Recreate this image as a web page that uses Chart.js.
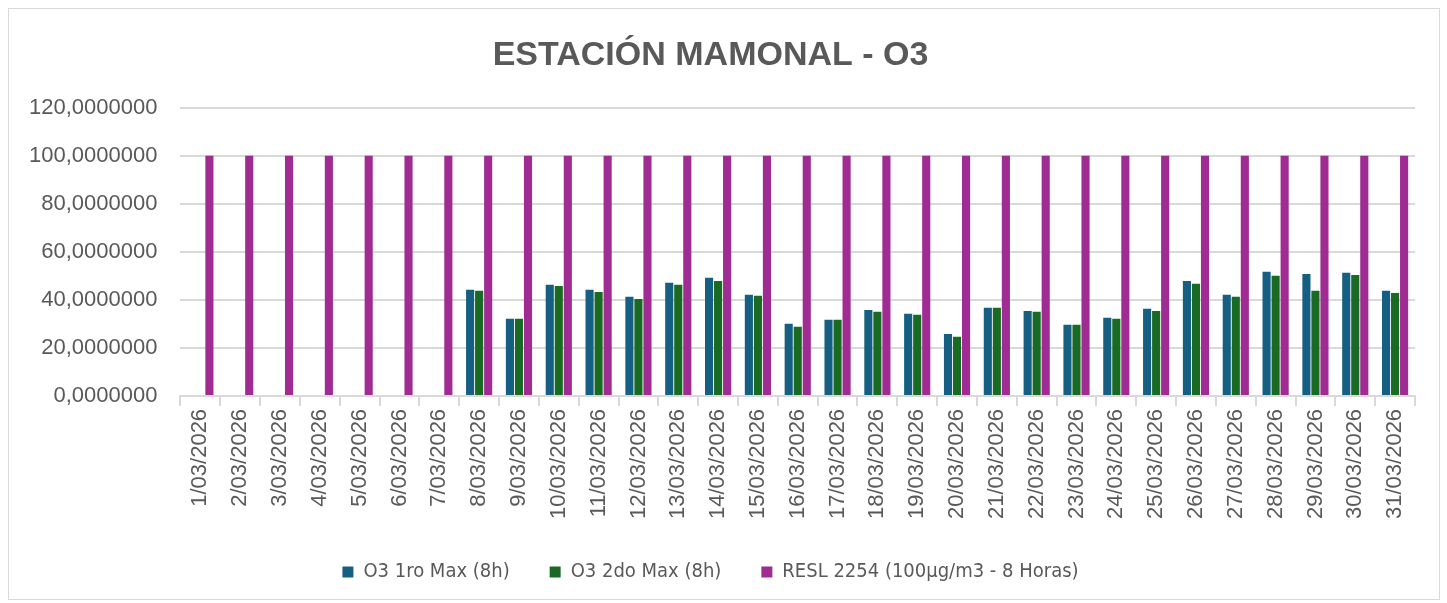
<!DOCTYPE html>
<html>
<head>
<meta charset="utf-8">
<script src="https://cdn.jsdelivr.net/npm/chart.js@4.4.1/dist/chart.umd.min.js"></script>
<style>
  body { margin: 0; background: #fff; }
  #wrap { position: relative; width: 1447px; height: 603px; }
  #frame { position: absolute; left: 8px; top: 8px; width: 1430px; height: 590px; border: 1px solid #d9d9d9; }
</style>
</head>
<body>
<div id="wrap">
  <div id="frame"></div>
  <canvas id="chart" width="1447" height="603"></canvas>
</div>
<script>
const fechas = [];
for (let d = 1; d <= 31; d++) fechas.push(d + '/03/2026');

const o3Primero = [null, null, null, null, null, null, null,
  44.2, 32.1, 46.3, 44.2, 41.3, 47.1, 49.2, 42.1, 30.0, 31.7, 35.8, 34.2,
  25.8, 36.7, 35.4, 29.6, 32.5, 36.3, 47.9, 42.1, 51.7, 50.8, 51.3, 43.8];
const o3Segundo = [null, null, null, null, null, null, null,
  43.8, 32.1, 45.8, 43.3, 40.4, 46.3, 47.9, 41.7, 28.8, 31.7, 35.0, 33.8,
  24.6, 36.7, 35.0, 29.6, 32.1, 35.4, 46.7, 41.3, 50.0, 43.8, 50.4, 42.9];
const norma = Array(31).fill(100);

const gris = '#595959';
const ctx = document.getElementById('chart').getContext('2d');
const myChart = new Chart(ctx, {
    type: 'bar',
    data: {
        labels: fechas,
        datasets: [{
            label: 'O3 1ro Max (8h)',
            data: o3Primero,
            backgroundColor: '#156082'
        }, {
            label: 'O3 2do Max (8h)',
            data: o3Segundo,
            backgroundColor: '#196B24'
        }, {
            label: 'RESL 2254 (100µg/m3 - 8 Horas)',
            data: norma,
            backgroundColor: '#A02B93'
        }]
    },
    options: {
        responsive: false,
        animation: false,
        categoryPercentage: 0.68,
        barPercentage: 0.9,
        layout: { padding: { left: 6, right: 32, top: 10, bottom: 11 } },
        plugins: {
            title: {
                display: true,
                text: 'ESTACIÓN MAMONAL - O3',
                color: gris,
                font: { family: 'Liberation Sans', size: 34, weight: 'bold' },
                padding: { top: 25, bottom: 32 }
            },
            legend: {
                position: 'bottom',
                labels: {
                    color: gris,
                    font: { family: 'DejaVu Sans Condensed, Roboto', size: 20 },
                    boxWidth: 11,
                    boxHeight: 11,
                    padding: 40
                }
            },
            tooltip: { enabled: false }
        },
        scales: {
            x: {
                grid: { drawOnChartArea: false, color: '#d9d9d9', tickLength: 10, lineWidth: 2 },
                border: { color: '#d9d9d9', width: 2 },
                ticks: {
                    color: gris,
                    font: { family: 'Liberation Sans', size: 22 },
                    minRotation: 90,
                    maxRotation: 90,
                    autoSkip: false
                }
            },
            y: {
                min: 0,
                max: 120,
                grid: { color: '#d9d9d9', lineWidth: 2, drawTicks: false },
                border: { display: false },
                ticks: {
                    stepSize: 20,
                    color: gris,
                    padding: 23,
                    font: { family: 'Liberation Sans', size: 22 },
                    callback: v => v.toFixed(7).replace('.', ',')
                }
            }
        }
    }
});
</script>
</body>
</html>
